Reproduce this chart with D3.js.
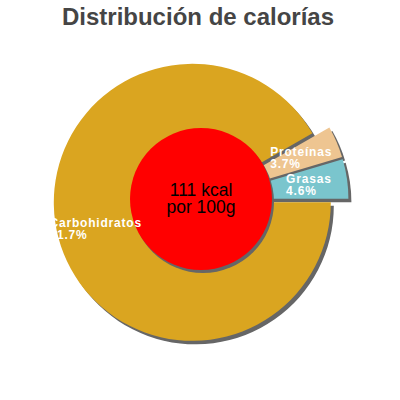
<!DOCTYPE html>
<html><head><meta charset="utf-8">
<script src="https://cdn.jsdelivr.net/npm/d3@7"></script>
<style>body{margin:0;background:#fff}svg{display:block}</style>
</head><body><svg id="c" width="400" height="400"></svg>
<script>
const title = "Distribución de calorías";
const categories = ["Grasas", "Proteínas", "Carbohidratos"];
const values = [4.6, 3.7, 91.7];
const percentLabels = ["4.6%", "3.7%", "91.7%"];
const colors = ["#7AC5CD", "#EEC591", "#DAA520"];
const centerLines = ["111 kcal", "por 100g"];

const svg = d3.select("#c");
const font = "'Liberation Sans', Arial, sans-serif";
const cx = 201, cy = 200, R = 138.5, rInner = 71, explode = 9, labelR = 100;

const data = categories.map((c, i) => ({name: c, value: values[i], pct: percentLabels[i], color: colors[i]}));
const pie = d3.pie().sort(null).value(d => d.value)
  .startAngle(Math.PI / 2).endAngle(Math.PI / 2 - 2 * Math.PI);
const arcs = pie(data);
const arc = d3.arc().innerRadius(0).outerRadius(R);
const off = a => { const m = (a.startAngle + a.endAngle) / 2; return [Math.sin(m), -Math.cos(m)]; };

svg.append("text").attr("x", 198).attr("y", 25).attr("text-anchor", "middle")
  .attr("font-family", font).attr("font-weight", "bold").attr("font-size", 24)
  .attr("fill", "#454545").text(title);

const g = svg.append("g").attr("transform", `translate(${cx},${cy})`);
// shadows
g.selectAll("path.sh").data(arcs).join("path").attr("class", "sh")
  .attr("d", arc).attr("fill", "#666")
  .attr("transform", a => { const [x, y] = off(a); return `translate(${x * explode + 3},${y * explode + 3.5})`; });
g.selectAll("path.sl").data(arcs).join("path").attr("class", "sl")
  .attr("d", arc).attr("fill", d => d.data.color)
  .attr("transform", a => { const [x, y] = off(a); return `translate(${x * explode},${y * explode})`; });

g.append("circle").attr("cx", 2).attr("cy", 2).attr("r", rInner).attr("fill", "#666");
g.append("circle").attr("cx", 0).attr("cy", -1).attr("r", rInner).attr("fill", "#FF0000");

g.selectAll("text.ct").data(centerLines).join("text").attr("class", "ct")
  .attr("x", 0).attr("y", (d, i) => -4 + i * 17).attr("text-anchor", "middle")
  .attr("font-family", font).attr("font-size", 17.5).attr("fill", "#000").text(d => d);

// labels
arcs.forEach(a => {
  const [x, y] = off(a);
  const lx = x * (explode + labelR), ly = y * (explode + labelR);
  const lg = g.append("g");
  const lines = [a.data.name, a.data.pct];
  const ts = lg.selectAll("text").data(lines).join("text")
    .attr("font-family", font).attr("font-weight", "bold").attr("font-size", 12)
    .attr("letter-spacing", 0.8)
    .attr("fill", "#fff").text(d => d);
  let w = 0;
  ts.each(function () { w = Math.max(w, this.getComputedTextLength()); });
  ts.attr("x", lx - w / 2).attr("y", (d, i) => ly - 1.5 + i * 12);
});
</script></body></html>
